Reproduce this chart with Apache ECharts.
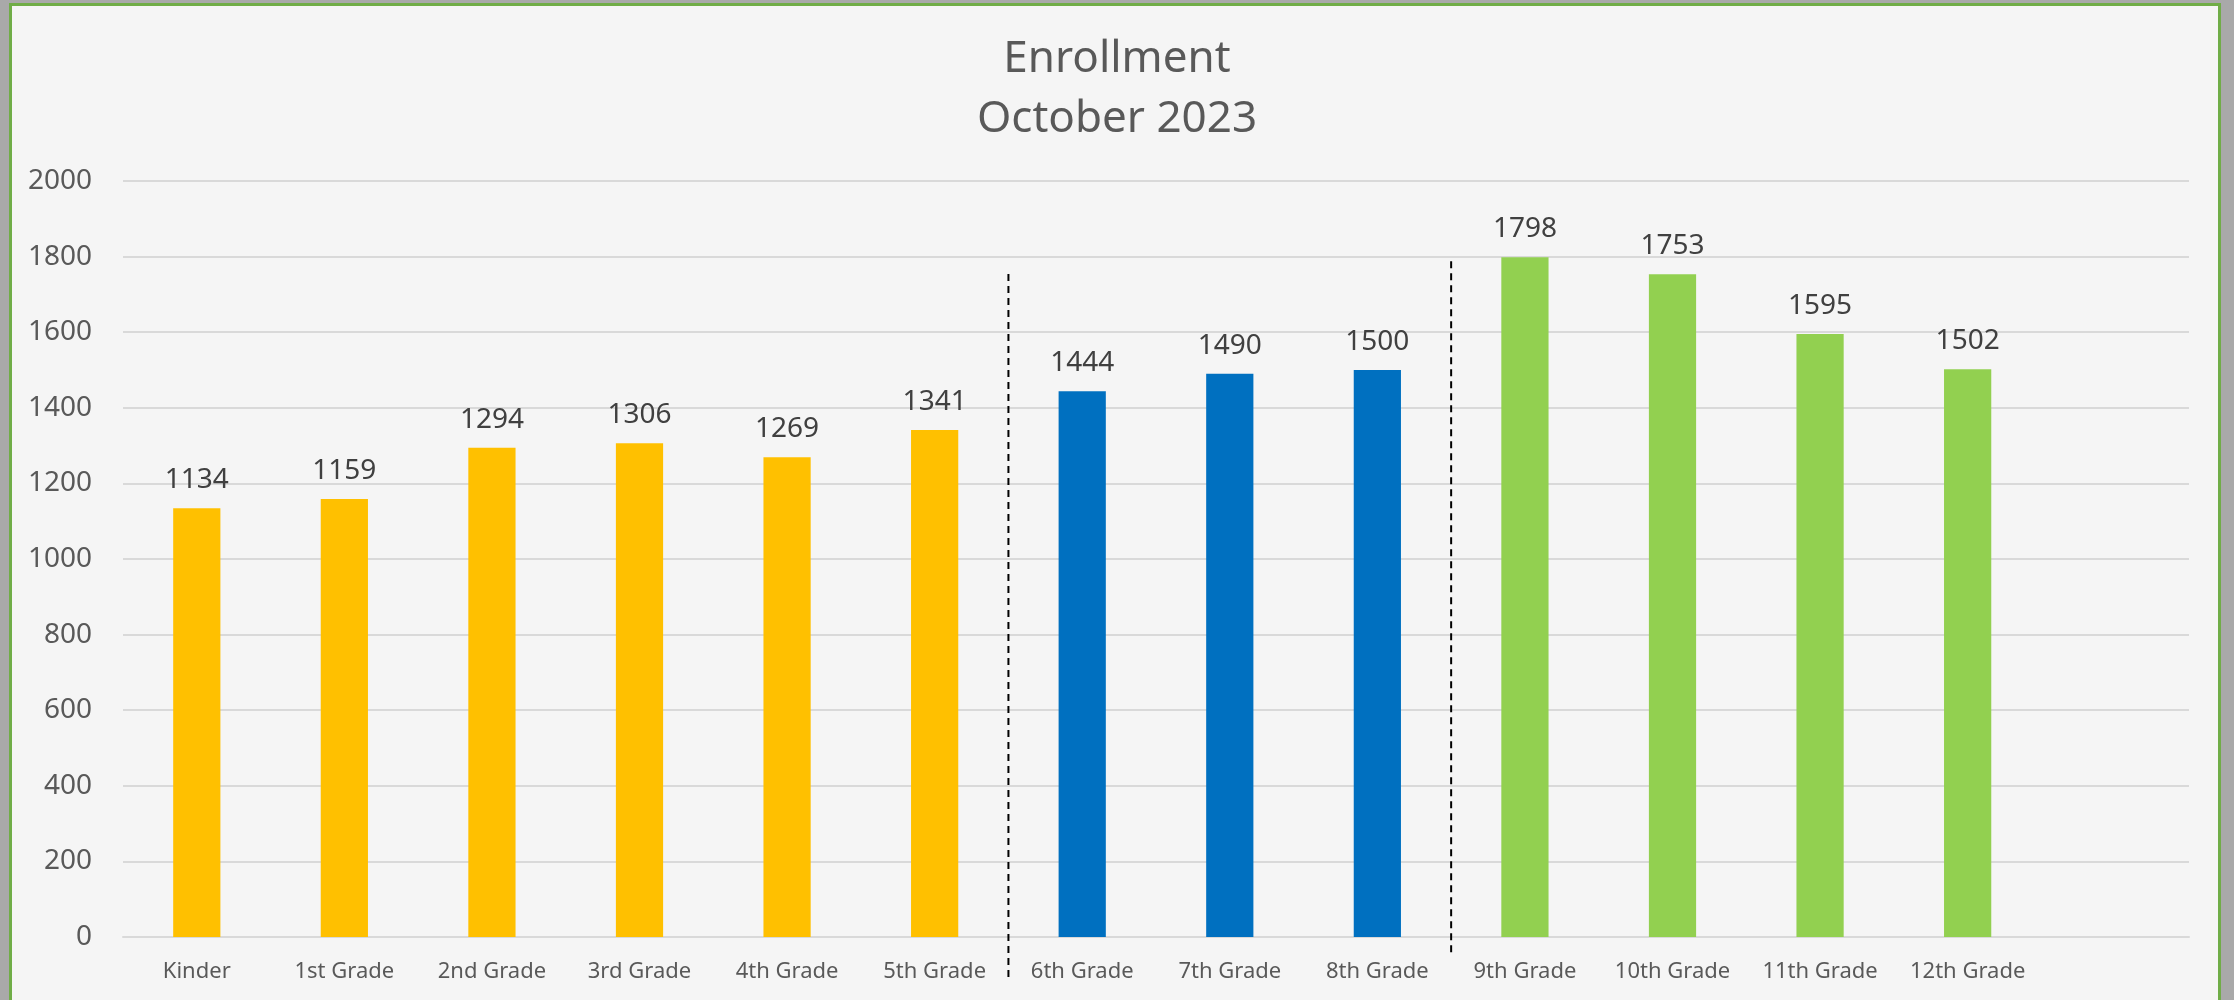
<!DOCTYPE html>
<html>
<head>
<meta charset="utf-8">
<script src="https://cdn.jsdelivr.net/npm/echarts@6/dist/echarts.min.js"></script>
<style>
  html, body { margin: 0; padding: 0; width: 2234px; height: 1000px; overflow: hidden; background: #a9a9a9; }
  #panel { position: absolute; left: 9px; top: 3px; width: 2206px; height: 1010px; background: #f5f5f5; border: 3px solid #70ad47; }
  #chart { position: absolute; left: 0; top: 0; width: 2234px; height: 1000px; }
</style>
</head>
<body>
<div id="panel"></div>
<div id="chart"></div>
<script>
// ---- data ----
const categories = ['Kinder', '1st Grade', '2nd Grade', '3rd Grade', '4th Grade', '5th Grade',
  '6th Grade', '7th Grade', '8th Grade', '9th Grade', '10th Grade', '11th Grade', '12th Grade', ''];
const enrollment = [1134, 1159, 1294, 1306, 1269, 1341, 1444, 1490, 1500, 1798, 1753, 1595, 1502, null];
const groupNames = ['Elementary', 'Middle', 'High'];
const groupFirst = ['Kinder', '6th Grade', '9th Grade'];
const groupLast = ['5th Grade', '8th Grade', '12th Grade'];
const yTicks = [0, 200, 400, 600, 800, 1000, 1200, 1400, 1600, 1800, 2000];
const dividerAfter = ['5th Grade', '8th Grade'];

// ---- styles ----
const groupColors = ['#ffc000', '#0070c0', '#92d050'];
const dividerExtents = [[1754, -114], [1788, -53]];
const FONT = 'Noto Sans';

const barSeries = groupNames.map((g, gi) => {
  const a = categories.indexOf(groupFirst[gi]);
  const b = categories.indexOf(groupLast[gi]);
  return {
    name: g,
    type: 'bar',
    stack: 'all',
    barWidth: '32%',
    itemStyle: { color: groupColors[gi] },
    label: {
      show: true, position: 'top', distance: 14,
      color: '#404040', fontFamily: FONT, fontSize: 28
    },
    data: enrollment.map((v, i) => (i >= a && i <= b && v != null) ? v : '-')
  };
});

const chart = echarts.init(document.getElementById('chart'), null, { renderer: 'canvas' });
chart.setOption({
  backgroundColor: 'transparent',
  animation: false,
  title: {
    text: 'Enrollment\nOctober 2023',
    left: 'center', top: 24,
    textStyle: { fontFamily: FONT, fontSize: 44, fontWeight: 'normal', color: '#595959', lineHeight: 60 }
  },
  grid: { left: 123, right: 45, top: 181, bottom: 63, containLabel: false },
  xAxis: {
    type: 'category',
    data: categories,
    axisLine: { show: true, lineStyle: { color: '#d9d9d9', width: 2 } },
    axisTick: { show: false },
    axisLabel: { interval: 0, margin: 24, color: '#595959', fontFamily: FONT, fontSize: 22 }
  },
  yAxis: {
    type: 'value',
    min: yTicks[0], max: yTicks[yTicks.length - 1], interval: yTicks[1] - yTicks[0],
    axisLine: { show: false },
    axisTick: { show: false },
    splitLine: { lineStyle: { color: '#d9d9d9', width: 2 } },
    axisLabel: { margin: 31, color: '#595959', fontFamily: FONT, fontSize: 28, formatter: v => String(v) }
  },
  series: barSeries.concat([{
    type: 'custom',
    clip: false,
    silent: true,
    z: 5,
    data: dividerAfter.map(n => [categories.indexOf(n), 0]),
    renderItem: function (params, api) {
      const i = api.value(0);
      const x = (api.coord([i, 0])[0] + api.coord([i + 1, 0])[0]) / 2;
      const ext = dividerExtents[params.dataIndex];
      const y1 = api.coord([i, ext[0]])[1];
      const y2 = api.coord([i, ext[1]])[1];
      return {
        type: 'line',
        shape: { x1: x, y1: y1, x2: x, y2: y2 },
        style: { stroke: '#000000', lineWidth: 2, lineDash: [7, 5] }
      };
    }
  }])
});
</script>
</body>
</html>
